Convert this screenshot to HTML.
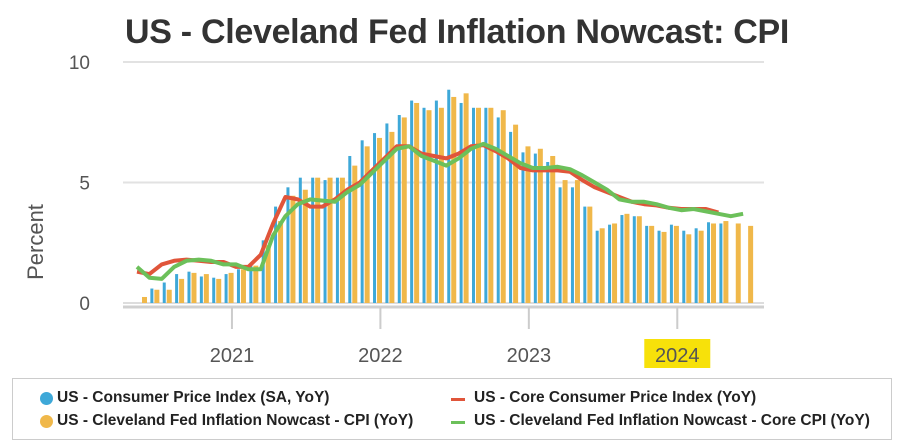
<!DOCTYPE html>
<html><head><meta charset="utf-8">
<style>
body{margin:0;background:#fff;width:900px;height:447px;overflow:hidden;font-family:"Liberation Sans",sans-serif;}
#wrap{position:relative;width:900px;height:447px;}
.title{position:absolute;left:125px;top:13px;font-size:34px;font-weight:bold;color:#333;letter-spacing:-0.3px;white-space:nowrap;}
.legend{position:absolute;left:12px;top:378px;width:880px;height:62px;border:1px solid #ccc;box-sizing:border-box;}
.li{position:absolute;font-size:15.5px;font-weight:bold;color:#222;white-space:nowrap;}
.dot{position:absolute;width:13px;height:13px;border-radius:50%;}
.dash{position:absolute;width:14px;height:3px;}
</style></head>
<body><div id="wrap">
<div class="title">US - Cleveland Fed Inflation Nowcast: CPI</div>
<svg id="chart" width="900" height="375" style="position:absolute;left:0;top:0"></svg>
<div class="legend">
 <div class="dot" style="left:27px;top:13px;background:#3ea8d8"></div>
 <div class="li" style="left:44px;top:10px">US - Consumer Price Index (SA, YoY)</div>
 <div class="dot" style="left:27px;top:36px;background:#f0b84a"></div>
 <div class="li" style="left:44px;top:33px">US - Cleveland Fed Inflation Nowcast - CPI (YoY)</div>
 <div class="dash" style="left:438px;top:19px;background:#e0553a"></div>
 <div class="li" style="left:461px;top:10px">US - Core Consumer Price Index (YoY)</div>
 <div class="dash" style="left:438px;top:42px;background:#6cc05a"></div>
 <div class="li" style="left:461px;top:33px">US - Cleveland Fed Inflation Nowcast - Core CPI (YoY)</div>
</div>
</div>
<script>
const yTicks=[0,5,10];
const yearLabels=["2021","2022","2023","2024"];
const yearMonthIndex=[8,20,32,44];
const cpi=[null,0.6,0.85,1.2,1.3,1.1,1.05,1.2,1.4,1.6,2.6,4.0,4.8,5.2,5.2,5.1,5.2,6.1,6.75,7.05,7.45,7.8,8.4,8.1,8.4,8.85,8.3,8.1,8.1,7.7,7.1,6.25,6.2,5.85,4.8,4.8,4.0,3.0,3.25,3.65,3.6,3.2,3.0,3.25,3.0,3.1,3.35,3.3,null,null];
const nowcast=[0.25,0.55,0.55,1.0,1.25,1.2,1.0,1.25,1.4,1.55,2.4,3.4,4.45,4.7,5.2,5.2,5.2,5.7,6.5,6.85,7.1,7.7,8.3,8.0,8.1,8.55,8.7,8.1,8.1,8.0,7.4,6.5,6.4,6.1,5.1,5.1,4.0,3.1,3.3,3.7,3.6,3.2,2.95,3.2,2.85,3.0,3.3,3.4,3.3,3.2];
const coreCpi=[1.3,1.2,1.6,1.75,1.8,1.75,1.7,1.7,1.5,1.5,2.0,3.3,4.4,4.3,4.0,4.0,4.3,4.7,5.0,5.5,6.0,6.5,6.5,6.2,6.1,6.0,6.2,6.5,6.55,6.3,6.0,5.6,5.5,5.5,5.5,5.45,5.1,4.8,4.6,4.4,4.2,4.1,4.05,3.95,3.9,3.9,3.9,3.75];
const coreNowcast=[1.5,1.05,1.0,1.5,1.75,1.8,1.75,1.6,1.6,1.4,1.4,2.8,3.6,4.1,4.3,4.25,4.2,4.6,4.9,5.4,5.9,6.4,6.5,6.1,5.9,5.7,6.0,6.4,6.6,6.4,6.1,5.8,5.6,5.6,5.65,5.55,5.3,5.0,4.7,4.3,4.2,4.2,4.1,3.95,3.85,3.9,3.8,3.7,3.6,3.7];

const svg=document.getElementById('chart');
const NS='http://www.w3.org/2000/svg';
const y=v=>303-v*24.1;
const x=i=>135+i*12.37;
function mk(t,a){const e=document.createElementNS(NS,t);for(const k in a)e.setAttribute(k,a[k]);svg.appendChild(e);return e;}
yTicks.forEach(t=>{
  const l=mk('line',{x1:123,x2:764,y1:y(t),y2:y(t),stroke:t===0?'#ddd':'#e2e2e2','stroke-width':2});
  
  
  const tx=mk('text',{x:90,y:y(t)+7,'text-anchor':'end','font-size':19,fill:'#555','font-family':'Liberation Sans, sans-serif'});
  tx.textContent=t;
  
  
});
const ax=mk('line',{x1:123,x2:764,y1:307,y2:307,stroke:'#d0d0d0','stroke-width':3});


yearLabels.forEach((lab,k)=>{
  const xx=x(yearMonthIndex[k])-2;
  const tk=mk('line',{x1:xx,x2:xx,y1:307,y2:329,stroke:'#ccc','stroke-width':2});
  
  
  if(lab==='2024'){
    const r=mk('rect',{x:xx-33,y:339,width:66,height:29,fill:'#f7e10a'});
    
    
  }
  const t=mk('text',{x:xx,y:362,'text-anchor':'middle','font-size':20,fill:'#555','font-family':'Liberation Sans, sans-serif'});
  t.textContent=lab;
  
  
});
const yt=mk('text',{x:0,y:0,'text-anchor':'middle','font-size':22,fill:'#555',transform:'translate(43,242) rotate(-90)','font-family':'Liberation Sans, sans-serif'});
yt.textContent='Percent';


cpi.forEach((v,i)=>{if(v==null)return;
  const b=mk('rect',{x:x(i)+3,y:y(v),width:3,height:303-y(v),fill:'#3ea8d8'});
  
  
});
nowcast.forEach((v,i)=>{
  const b=mk('rect',{x:x(i)+7,y:y(v),width:5,height:303-y(v),fill:'#f0b84a'});
  
  
});
function line(arr,col,name){
  const p=arr.map((v,i)=>(i?'L':'M')+(x(i)+2).toFixed(1)+' '+y(v).toFixed(1)).join(' ');
  const l=mk('path',{d:p,fill:'none',stroke:col,'stroke-width':4,'stroke-linejoin':'round'});
  
  
}
line(coreCpi,'#e0553a','line-core-cpi');
line(coreNowcast,'#6cc05a','line-core-nowcast');
</script>
</body></html>
